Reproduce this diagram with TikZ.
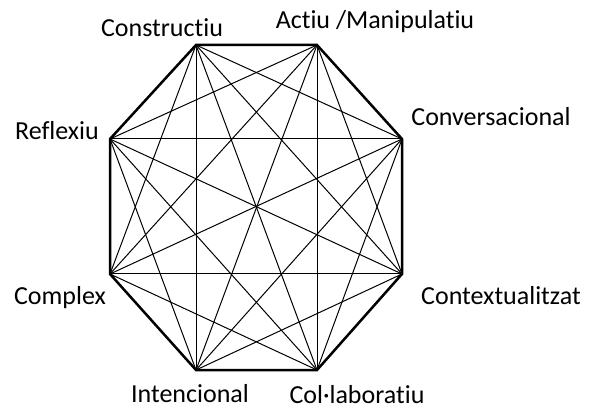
\documentclass[tikz,border=0pt]{standalone}
\usepackage{fontspec}
\setmainfont{Carlito}[Ligatures=NoCommon]
\usetikzlibrary{positioning}
\tikzset{
  corner/.style={inner sep=0pt, minimum size=0pt},
  tag/.style={font=\fontsize{26}{31}\selectfont, inner sep=0pt, anchor=base},
  rim/.style={line width=2.5pt, line join=miter, draw=black},
  chord/.style={line width=1pt, draw=black}
}
\begin{document}
\begin{tikzpicture}[x=1pt,y=-1pt]
  \useasboundingbox (0,0) rectangle (594,411);
  % corners of the octagon
  \node[corner] (cons) at (196,45) {};
  \node[corner] (actm) at (317,45) {};
  \node[corner] (conv) at (402,139) {};
  \node[corner] (ctxt) at (402,274) {};
  \node[corner] (coll) at (317,370) {};
  \node[corner] (inte) at (196,370) {};
  \node[corner] (cmpx) at (110,274) {};
  \node[corner] (refl) at (110,139) {};
  % every pair of corners
  \foreach \a/\b in {cons/conv, cons/ctxt, cons/coll, cons/inte, cons/cmpx,
                     actm/ctxt, actm/coll, actm/inte, actm/cmpx, actm/refl,
                     conv/coll, conv/inte, conv/cmpx, conv/refl,
                     ctxt/inte, ctxt/cmpx, ctxt/refl,
                     coll/cmpx, coll/refl,
                     inte/refl}
    \draw[chord] (\a.center) -- (\b.center);
  \draw[rim] (cons.center) -- (actm.center) -- (conv.center) -- (ctxt.center)
    -- (coll.center) -- (inte.center) -- (cmpx.center) -- (refl.center) -- cycle;
  % labels
  \node[tag] (lcons) at (162,37) {Constructiu};
  \node[tag] (lactm) at (375,29) {Actiu /Manipulatiu};
  \node[tag] (lconv) at (491,126) {Conversacional};
  \node[tag] (lctxt) at (501,305) {Contextualitzat};
  \node[tag] (lcoll) at (357,403) {Col·laboratiu};
  \node[tag] (linte) at (190,402) {Intencional};
  \node[tag] (lcmpx) at (60,305) {Complex};
  \node[tag] (lrefl) at (57,140) {Reflexiu};
\end{tikzpicture}
\end{document}
